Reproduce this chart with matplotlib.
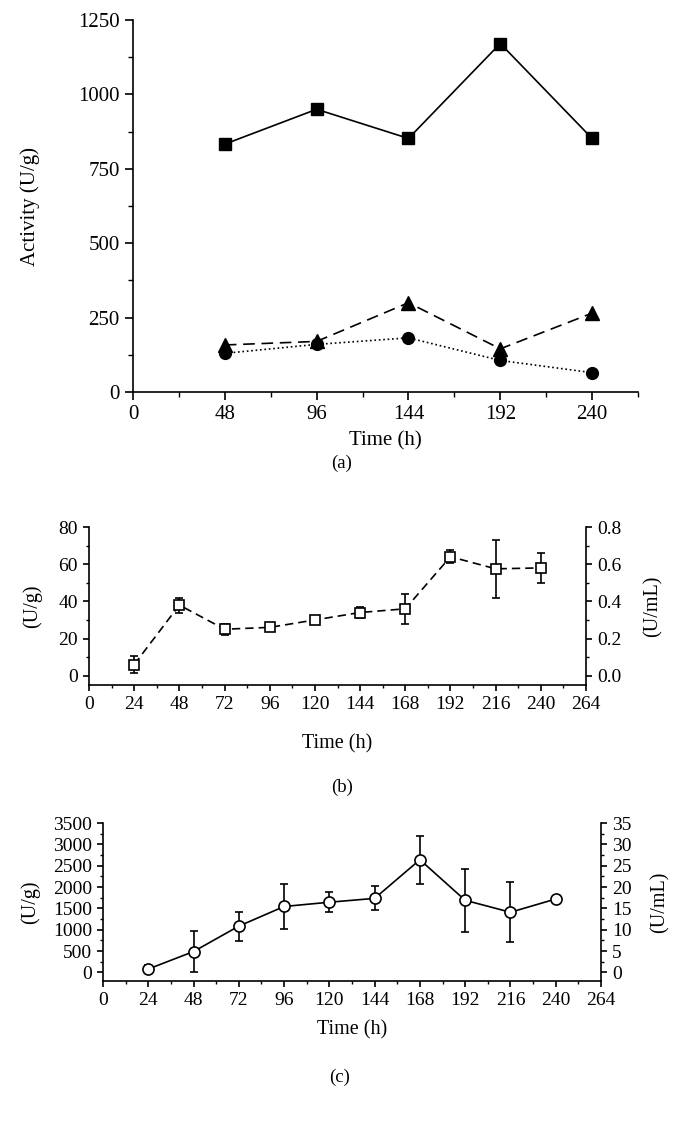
import numpy as np
import matplotlib
matplotlib.use('Agg')
import matplotlib.pyplot as plt
from matplotlib.ticker import MultipleLocator, FormatStrFormatter

plt.rcParams['font.family'] = ['Liberation Serif', 'DejaVu Serif']
plt.rcParams['axes.linewidth'] = 1.2

# (a) activity of three enzymes
time_a = [48, 96, 144, 192, 240]
squares_a = [833, 950, 852, 1171, 852]
triangles_a = [158, 170, 300, 145, 265]
circles_a = [130, 160, 182, 106, 65]

# (b) activity with error bars
time_b = [24, 48, 72, 96, 120, 144, 168, 192, 216, 240]
act_b = [6, 38, 25, 26, 30, 34, 36, 64, 57.5, 58]
err_b = [4.5, 4, 3, 2, 1.5, 3, 8, 3.5, 15.5, 8]

# (c) activity with error bars
time_c = [24, 48, 72, 96, 120, 144, 168, 192, 216, 240]
act_c = [80, 490, 1085, 1545, 1645, 1735, 2640, 1690, 1410, 1720]
err_c = [100, 490, 340, 530, 240, 280, 560, 740, 700, 60]

W, H = 683, 1121
fig = plt.figure(figsize=(W / 100, H / 100), dpi=100)


def box(left, top, right, bottom):
    return [left / W, 1 - bottom / H, (right - left) / W, (bottom - top) / H]


def style_ticks(ax, size, major=5, minor=3):
    ax.tick_params(which='major', direction='out', length=major, width=1.2, labelsize=size)
    ax.tick_params(which='minor', direction='out', length=minor, width=1.0)


# ---- panel (a)
ax = fig.add_axes(box(133, 20, 638, 392))
ax.plot(time_a, squares_a, 'k-', marker='s', ms=8.5, lw=1.2)
ax.plot(time_a, triangles_a, 'k--', marker='^', ms=9.5, lw=1.2, dashes=(7, 4))
ax.plot(time_a, circles_a, 'k:', marker='o', ms=8.5, lw=1.2)
ax.set_xlim(0, 264)
ax.set_ylim(0, 1250)
ax.xaxis.set_major_locator(MultipleLocator(48))
ax.xaxis.set_minor_locator(MultipleLocator(24))
ax.yaxis.set_major_locator(MultipleLocator(250))
ax.yaxis.set_minor_locator(MultipleLocator(125))
ax.spines['top'].set_visible(False)
ax.spines['right'].set_visible(False)
style_ticks(ax, 15, major=6, minor=3.5)
ax.set_ylabel('Activity (U/g)', fontsize=15)
ax.yaxis.set_label_coords(-0.184, 0.5)
ax.set_xlabel('Time (h)', fontsize=15)
ax.xaxis.set_label_coords(0.5, -0.105)
fig.text(342 / W, 1 - 463 / H, '(a)', fontsize=13.5, ha='center', va='center')

# ---- panel (b)
ax = fig.add_axes(box(89, 527, 586, 685))
ax.errorbar(time_b, act_b, yerr=err_b, color='k', ls='--', dashes=(5, 3), lw=1.2,
            marker='s', ms=7, mfc='white', mec='k', mew=1.2,
            capsize=3, elinewidth=1.2, capthick=1.2)
ax.set_xlim(0, 264)
ax.set_ylim(-5, 80)
ax.xaxis.set_major_locator(MultipleLocator(24))
ax.xaxis.set_minor_locator(MultipleLocator(12))
ax.yaxis.set_major_locator(MultipleLocator(20))
ax.yaxis.set_minor_locator(MultipleLocator(10))
ax.spines['top'].set_visible(False)
ax.spines['right'].set_visible(False)
style_ticks(ax, 14, major=4.5, minor=2.5)
ax.set_ylabel('(U/g)', fontsize=14.5)
ax.yaxis.set_label_coords(-0.095, 0.5)
ax.set_xlabel('Time (h)', fontsize=14.5)
ax.xaxis.set_label_coords(0.5, -0.31)
axr = ax.twinx()
axr.set_ylim(-0.05, 0.8)
axr.yaxis.set_major_locator(MultipleLocator(0.2))
axr.yaxis.set_minor_locator(MultipleLocator(0.1))
axr.yaxis.set_major_formatter(FormatStrFormatter('%.1f'))
for s in ['top', 'left', 'bottom']:
    axr.spines[s].set_visible(False)
style_ticks(axr, 14, major=4.5, minor=2.5)
axr.set_ylabel('(U/mL)', fontsize=14.5)
axr.yaxis.set_label_coords(1.115, 0.5)
fig.text(342 / W, 1 - 787 / H, '(b)', fontsize=13.5, ha='center', va='center')

# ---- panel (c)
ax = fig.add_axes(box(103, 823, 601, 981))
ax.errorbar(time_c, act_c, yerr=err_c, color='k', ls='-', lw=1.2,
            marker='o', ms=8, mfc='white', mec='k', mew=1.2,
            capsize=3, elinewidth=1.2, capthick=1.2)
ax.set_xlim(0, 264)
ax.set_ylim(-200, 3500)
ax.xaxis.set_major_locator(MultipleLocator(24))
ax.xaxis.set_minor_locator(MultipleLocator(12))
ax.yaxis.set_major_locator(MultipleLocator(500))
ax.yaxis.set_minor_locator(MultipleLocator(250))
ax.spines['top'].set_visible(False)
ax.spines['right'].set_visible(False)
style_ticks(ax, 14, major=4.5, minor=2.5)
ax.set_ylabel('(U/g)', fontsize=14.5)
ax.yaxis.set_label_coords(-0.127, 0.5)
ax.set_xlabel('Time (h)', fontsize=14.5)
ax.xaxis.set_label_coords(0.5, -0.247)
axr = ax.twinx()
axr.set_ylim(-2, 35)
axr.yaxis.set_major_locator(MultipleLocator(5))
axr.yaxis.set_minor_locator(MultipleLocator(2.5))
for s in ['top', 'left', 'bottom']:
    axr.spines[s].set_visible(False)
style_ticks(axr, 14, major=4.5, minor=2.5)
axr.set_ylabel('(U/mL)', fontsize=14.5)
axr.yaxis.set_label_coords(1.10, 0.5)
fig.text(340 / W, 1 - 1077 / H, '(c)', fontsize=13.5, ha='center', va='center')

fig.savefig('out.png', dpi=100)
